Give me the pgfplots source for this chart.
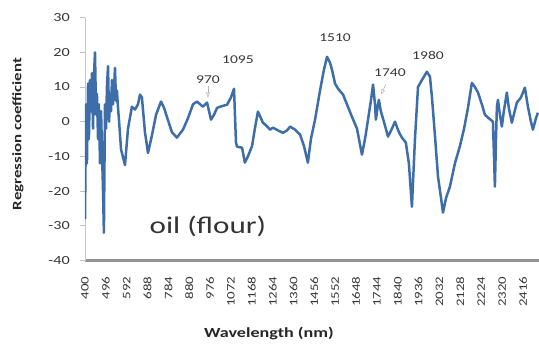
\documentclass[border=0pt]{standalone}
\usepackage{fontspec}
\setmainfont{Carlito}[FakeStretch=1.3]
\usepackage{pgfplots}
\pgfplotsset{compat=1.18}
\usetikzlibrary{arrows.meta}
\definecolor{linecol}{RGB}{62,110,170}
\definecolor{txt}{RGB}{55,55,55}
\pgfplotstableread{
x y
400 -28
405 5
409 -12
414 11
418 -5
423 12
428 3
432 14
437 -2
441 13
446 20
451 2
455 8
460 -5
464 5
469 -12
474 3
478 -8
483 -20
487 -32
492 5
497 -2
501 10
506 16
511 0
515 8
520 3
524 12
529 5
534 10
538 15.5
543 6
547 9
552 4
557 0
566 -8
584 -12.5
598 -2
616 4.3
630 3.5
644 5
653 7.8
662 7
676 -3
690 -9
708 -4
727 2
750 5.8
764 4
777 1.4
800 -3
823 -4.6
851 -2.3
874 1
897 5
916 5.8
943 4.3
962 5.5
980 0.6
994 2
1008 4
1031 4.5
1054 4.9
1072 7
1086 9.5
1095 -6
1100 -7.2
1123 -7.5
1136 -11.8
1150 -10
1169 -7
1182 -2
1196 2.9
1210 1
1219 -0.3
1233 -1
1252 -2.3
1265 -1.7
1288 -2.5
1311 -3.2
1330 -2.5
1344 -1.4
1367 -2.3
1390 -3.7
1408 -7
1426 -11.8
1440 -5
1459 0.6
1482 9
1500 15
1514 18.7
1528 17
1537 15
1551 11
1565 9.5
1588 7.8
1606 5
1629 1.4
1652 -2
1675 -9.5
1689 -5
1698 -1.4
1716 6
1726 10.7
1735 5
1739 0.6
1749 5
1753 6.3
1762 3
1776 0
1795 -4.3
1813 -2
1827 0
1845 -3
1859 -4.6
1877 -6
1891 -12
1905 -24.5
1919 -5
1933 10
1951 12
1974 14.4
1988 13
1997 7.2
2011 -4
2025 -15.8
2039 -22
2048 -26.2
2062 -22
2080 -18.7
2103 -12
2126 -7
2145 -2
2163 4
2181 11.2
2195 10
2209 8.4
2227 5
2241 2
2255 1.2
2269 0.5
2278 0
2287 -18.7
2292 -5
2296 4
2301 6.3
2310 2
2319 -1.4
2328 3
2342 8.4
2351 4
2365 -0.3
2374 2
2388 5.5
2407 7
2425 9.8
2439 4.3
2453 0
2462 -2.3
2476 1
2485 2.6
}\datatable
\begin{document}
\begin{tikzpicture}
\path[use as bounding box] (-85bp,-88.5bp) rectangle (454bp,260.5bp);
\begin{axis}[
  at={(0,0)}, anchor=south west,
  scale only axis, width=454bp, height=242.9bp,
  xmin=400, xmax=2490, ymin=-40, ymax=30,
  axis x line*=bottom, axis y line*=left,
  x axis line style={draw=gray!85, line width=2.6bp},
  y axis line style={draw=gray!45, line width=0.8bp},
  xtick={400,496,...,2416},
  ytick={-40,-30,...,30},
  xtick style={draw=none},
  ytick style={draw=gray!50, line width=0.8bp},
  tick align=outside, major tick length=5bp,
  /pgf/number format/assume math mode=true,
  /pgf/number format/1000 sep={},
  xticklabel style={font=\fontsize{11.5}{12}\selectfont, text=txt, rotate=90, anchor=east, inner sep=0pt},
  yticklabel style={font=\fontsize{12.5}{13}\selectfont, text=txt, anchor=east, inner sep=0pt},
  xticklabel shift=11bp,
  yticklabel shift=10bp,
  xlabel={Wavelength (nm)}, ylabel={Regression coefficient},
  every axis x label/.style={at={(axis description cs:0.405,-0.3026)}, anchor=center, font=\bfseries\fontsize{14}{15}\selectfont, text=black!85},
  every axis y label/.style={at={(axis description cs:-0.1476,0.521)}, rotate=90, anchor=center, font=\bfseries\fontsize{13}{14}\selectfont, text=black!85},
  clip=true,
]
\addplot[linecol, line width=2.5bp, line join=round] table[x=x,y=y] {\datatable};
\node[font=\fontsize{24}{25}\selectfont, text=black!80] at (axis cs:966,-30.3) {oil (flour)};
\node[font=\fontsize{12}{13}\selectfont, text=txt] at (axis cs:966,12.0) {970};
\node[font=\fontsize{12}{13}\selectfont, text=txt] at (axis cs:1104,17.8) {1095};
\node[font=\fontsize{12}{13}\selectfont, text=txt] at (axis cs:1551,24.1) {1510};
\node[font=\fontsize{12}{13}\selectfont, text=txt] at (axis cs:1804,14.0) {1740};
\node[font=\fontsize{12}{13}\selectfont, text=txt] at (axis cs:1979,19.2) {1980};
\draw[gray!55, -{Latex[open]}, line width=0.6bp] (axis cs:966,10.3) -- (axis cs:966,6.8);
\draw[gray!55, -{Latex[open]}, line width=0.6bp] (axis cs:1785,10.8) -- (axis cs:1762,7.7);
\end{axis}
\end{tikzpicture}
\end{document}
